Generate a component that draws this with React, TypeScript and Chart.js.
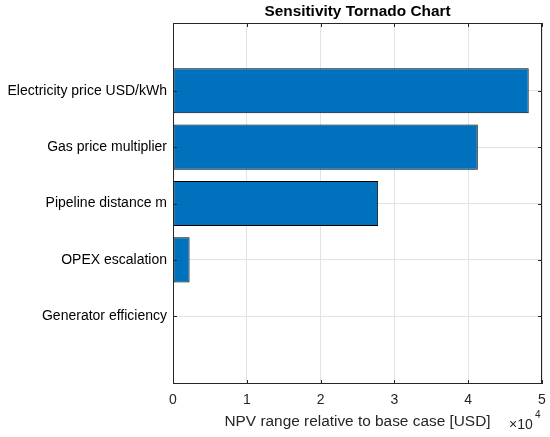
import { useEffect, useRef } from "react";
import { Chart, registerables } from "chart.js";

Chart.register(...registerables);

// values (USD)
const categories = [
  "Electricity price USD/kWh",
  "Gas price multiplier",
  "Pipeline distance m",
  "OPEX escalation",
  "Generator efficiency",
];
const positions = [1, 2, 3, 4, 5];
const npvRange = [48200, 41300, 27800, 2250, 0];
const xTicks = [0, 10000, 20000, 30000, 40000, 50000];

const FONT = "'Liberation Sans', Arial, Helvetica, sans-serif";
const INK = "#262626";

const matlabFrame = {
  id: "matlabFrame",
  afterDraw(chart: Chart) {
    const { ctx, chartArea: a } = chart;
    const xs = chart.scales.x;
    const ys = chart.scales.y;
    ctx.save();
    ctx.strokeStyle = INK;
    ctx.lineWidth = 1;
    ctx.strokeRect(a.left + 0.5, a.top + 0.5, a.right - a.left - 1, a.bottom - a.top - 1);
    // inward tick marks on all four sides
    ctx.beginPath();
    xTicks.forEach((v) => {
      const px = Math.round(xs.getPixelForValue(v)) + 0.5;
      ctx.moveTo(px, a.bottom);
      ctx.lineTo(px, a.bottom - 4);
      ctx.moveTo(px, a.top);
      ctx.lineTo(px, a.top + 4);
    });
    positions.forEach((v) => {
      const py = Math.round(ys.getPixelForValue(v)) + 0.5;
      ctx.moveTo(a.left, py);
      ctx.lineTo(a.left + 4, py);
      ctx.moveTo(a.right, py);
      ctx.lineTo(a.right - 4, py);
    });
    ctx.stroke();

    const cx = (a.left + a.right) / 2;
    ctx.fillStyle = "#000";
    ctx.textAlign = "center";
    ctx.textBaseline = "middle";
    ctx.font = `bold 15.4px ${FONT}`;
    ctx.fillText("Sensitivity Tornado Chart", cx, 12);

    ctx.fillStyle = INK;
    ctx.font = `15.4px ${FONT}`;
    ctx.fillText("NPV range relative to base case [USD]", cx, 422);

    ctx.textAlign = "left";
    ctx.font = `14px ${FONT}`;
    ctx.fillText("\u00d710", 509, 425);
    ctx.font = `10px ${FONT}`;
    ctx.fillText("4", 535, 415);
    ctx.restore();
  },
};

export default function App() {
  const canvasRef = useRef<HTMLCanvasElement | null>(null);

  useEffect(() => {
    if (!canvasRef.current) return;
    const chart = new Chart(canvasRef.current, {
      type: "bar",
      data: {
        datasets: [
          {
            data: npvRange.map((v, i) => ({ x: v, y: positions[i] })),
            backgroundColor: "#0072BD",
            borderColor: "#000",
            borderWidth: 1,
            borderSkipped: false,
            barPercentage: 0.8,
            categoryPercentage: 1,
          },
        ],
      },
      options: {
        indexAxis: "y",
        animation: false,
        responsive: false,
        layout: { padding: { top: 23, right: 8, left: 0, bottom: 0 } },
        plugins: {
          legend: { display: false },
          tooltip: { enabled: false },
        },
        scales: {
          x: {
            type: "linear",
            min: 0,
            max: 50000,
            afterBuildTicks: (axis: any) => {
              axis.ticks = xTicks.map((v) => ({ value: v }));
            },
            afterFit: (axis: any) => {
              axis.height = 53;
              axis.paddingLeft = 0;
              axis.paddingRight = 0;
            },
            grid: { color: "#e3e3e3", drawTicks: false },
            border: { display: false },
            ticks: {
              padding: 8,
              color: INK,
              font: { family: FONT, size: 14 },
              callback: (v: any) => String(Number(v) / 10000),
              maxRotation: 0,
            },
          },
          y: {
            type: "linear",
            reverse: true,
            offset: false,
            min: -0.2,
            max: 6.2,
            afterBuildTicks: (axis: any) => {
              axis.ticks = positions.map((v) => ({ value: v }));
            },
            afterFit: (axis: any) => {
              axis.width = 173;
              axis.paddingTop = 0;
              axis.paddingBottom = 0;
            },
            grid: { color: "#e3e3e3", drawTicks: false, offset: false },
            border: { display: false },
            ticks: {
              padding: 6,
              color: "#000",
              font: { family: FONT, size: 14 },
              callback: (v: any) => categories[positions.indexOf(Number(v))] ?? "",
            },
          },
        },
      },
      plugins: [matlabFrame],
    });
    return () => chart.destroy();
  }, []);

  return (
    <div style={{ position: "absolute", left: 0, top: 0, width: 550, height: 437, background: "#fff" }}>
      <canvas ref={canvasRef} width={550} height={437} />
    </div>
  );
}
